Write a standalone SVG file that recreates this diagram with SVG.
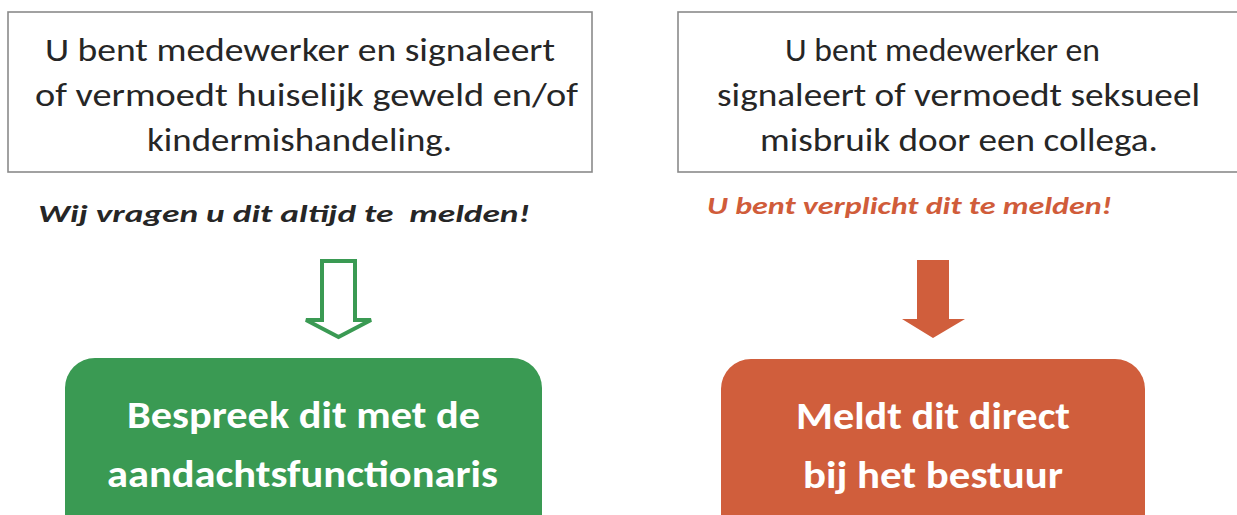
<svg xmlns="http://www.w3.org/2000/svg" width="1237" height="515" viewBox="0 0 1237 515">
<style>
.box{fill:#ffffff;stroke:#8a8a8a;stroke-width:1.6}
.t{font-family:Carlito,Lato,"Open Sans","Liberation Sans",sans-serif;font-size:32px;fill:#262626;text-anchor:middle}
.note{font-family:Carlito,Lato,"Open Sans","Liberation Sans",sans-serif;font-weight:bold;font-style:italic;font-size:24px}
.bt{font-family:Carlito,Lato,"Open Sans","Liberation Sans",sans-serif;font-weight:bold;font-size:38px;fill:#ffffff;text-anchor:middle}
</style>
<rect width="1237" height="515" fill="#ffffff"/>
<g id="node-left-top">
<rect class="box" x="8" y="12" width="584" height="160"/>
<text class="t" x="300" y="61" textLength="510" lengthAdjust="spacingAndGlyphs">U bent medewerker en signaleert</text>
<text class="t" x="306.5" y="106" textLength="543" lengthAdjust="spacingAndGlyphs">of vermoedt huiselijk geweld en/of</text>
<text class="t" x="299.5" y="151" textLength="305" lengthAdjust="spacingAndGlyphs">kindermishandeling.</text>
</g>
<g id="node-right-top">
<rect class="box" x="678" y="12" width="570" height="160"/>
<text class="t" x="942.5" y="61" textLength="315" lengthAdjust="spacingAndGlyphs">U bent medewerker en</text>
<text class="t" x="958.5" y="106" textLength="483" lengthAdjust="spacingAndGlyphs">signaleert of vermoedt seksueel</text>
<text class="t" x="959" y="151" textLength="398" lengthAdjust="spacingAndGlyphs">misbruik door een collega.</text>
</g>
<g id="label-left">
<text class="note" x="38" y="222" fill="#262626" xml:space="preserve" style="white-space:pre" textLength="492" lengthAdjust="spacingAndGlyphs">Wij vragen u dit altijd te  melden!</text>
</g>
<g id="label-right">
<text class="note" x="707" y="214" fill="#D05C3A" textLength="405" lengthAdjust="spacingAndGlyphs">U bent verplicht dit te melden!</text>
</g>
<g id="connectors">
<path d="M322,261 H355 V320 H371 L338.5,337 L306,320 H322 Z" fill="#ffffff" stroke="#3A9A53" stroke-width="4" stroke-linejoin="miter"/>
<path d="M917,260 H949 V319 H965 L933,338 L902,319 H917 Z" fill="#D05E3C"/>
</g>
<g id="node-left-bottom">
<rect x="65" y="358" width="477" height="190" rx="30" ry="30" fill="#3A9A53"/>
<text class="bt" x="303.5" y="428" textLength="353" lengthAdjust="spacingAndGlyphs">Bespreek dit met de</text>
<text class="bt" x="302.5" y="487" textLength="391" lengthAdjust="spacingAndGlyphs">aandachtsfunctionaris</text>
</g>
<g id="node-right-bottom">
<rect x="721" y="359" width="424" height="190" rx="30" ry="30" fill="#D05E3C"/>
<text class="bt" x="933" y="429" textLength="274" lengthAdjust="spacingAndGlyphs">Meldt dit direct</text>
<text class="bt" x="933" y="488" textLength="260" lengthAdjust="spacingAndGlyphs">bij het bestuur</text>
</g>
</svg>
